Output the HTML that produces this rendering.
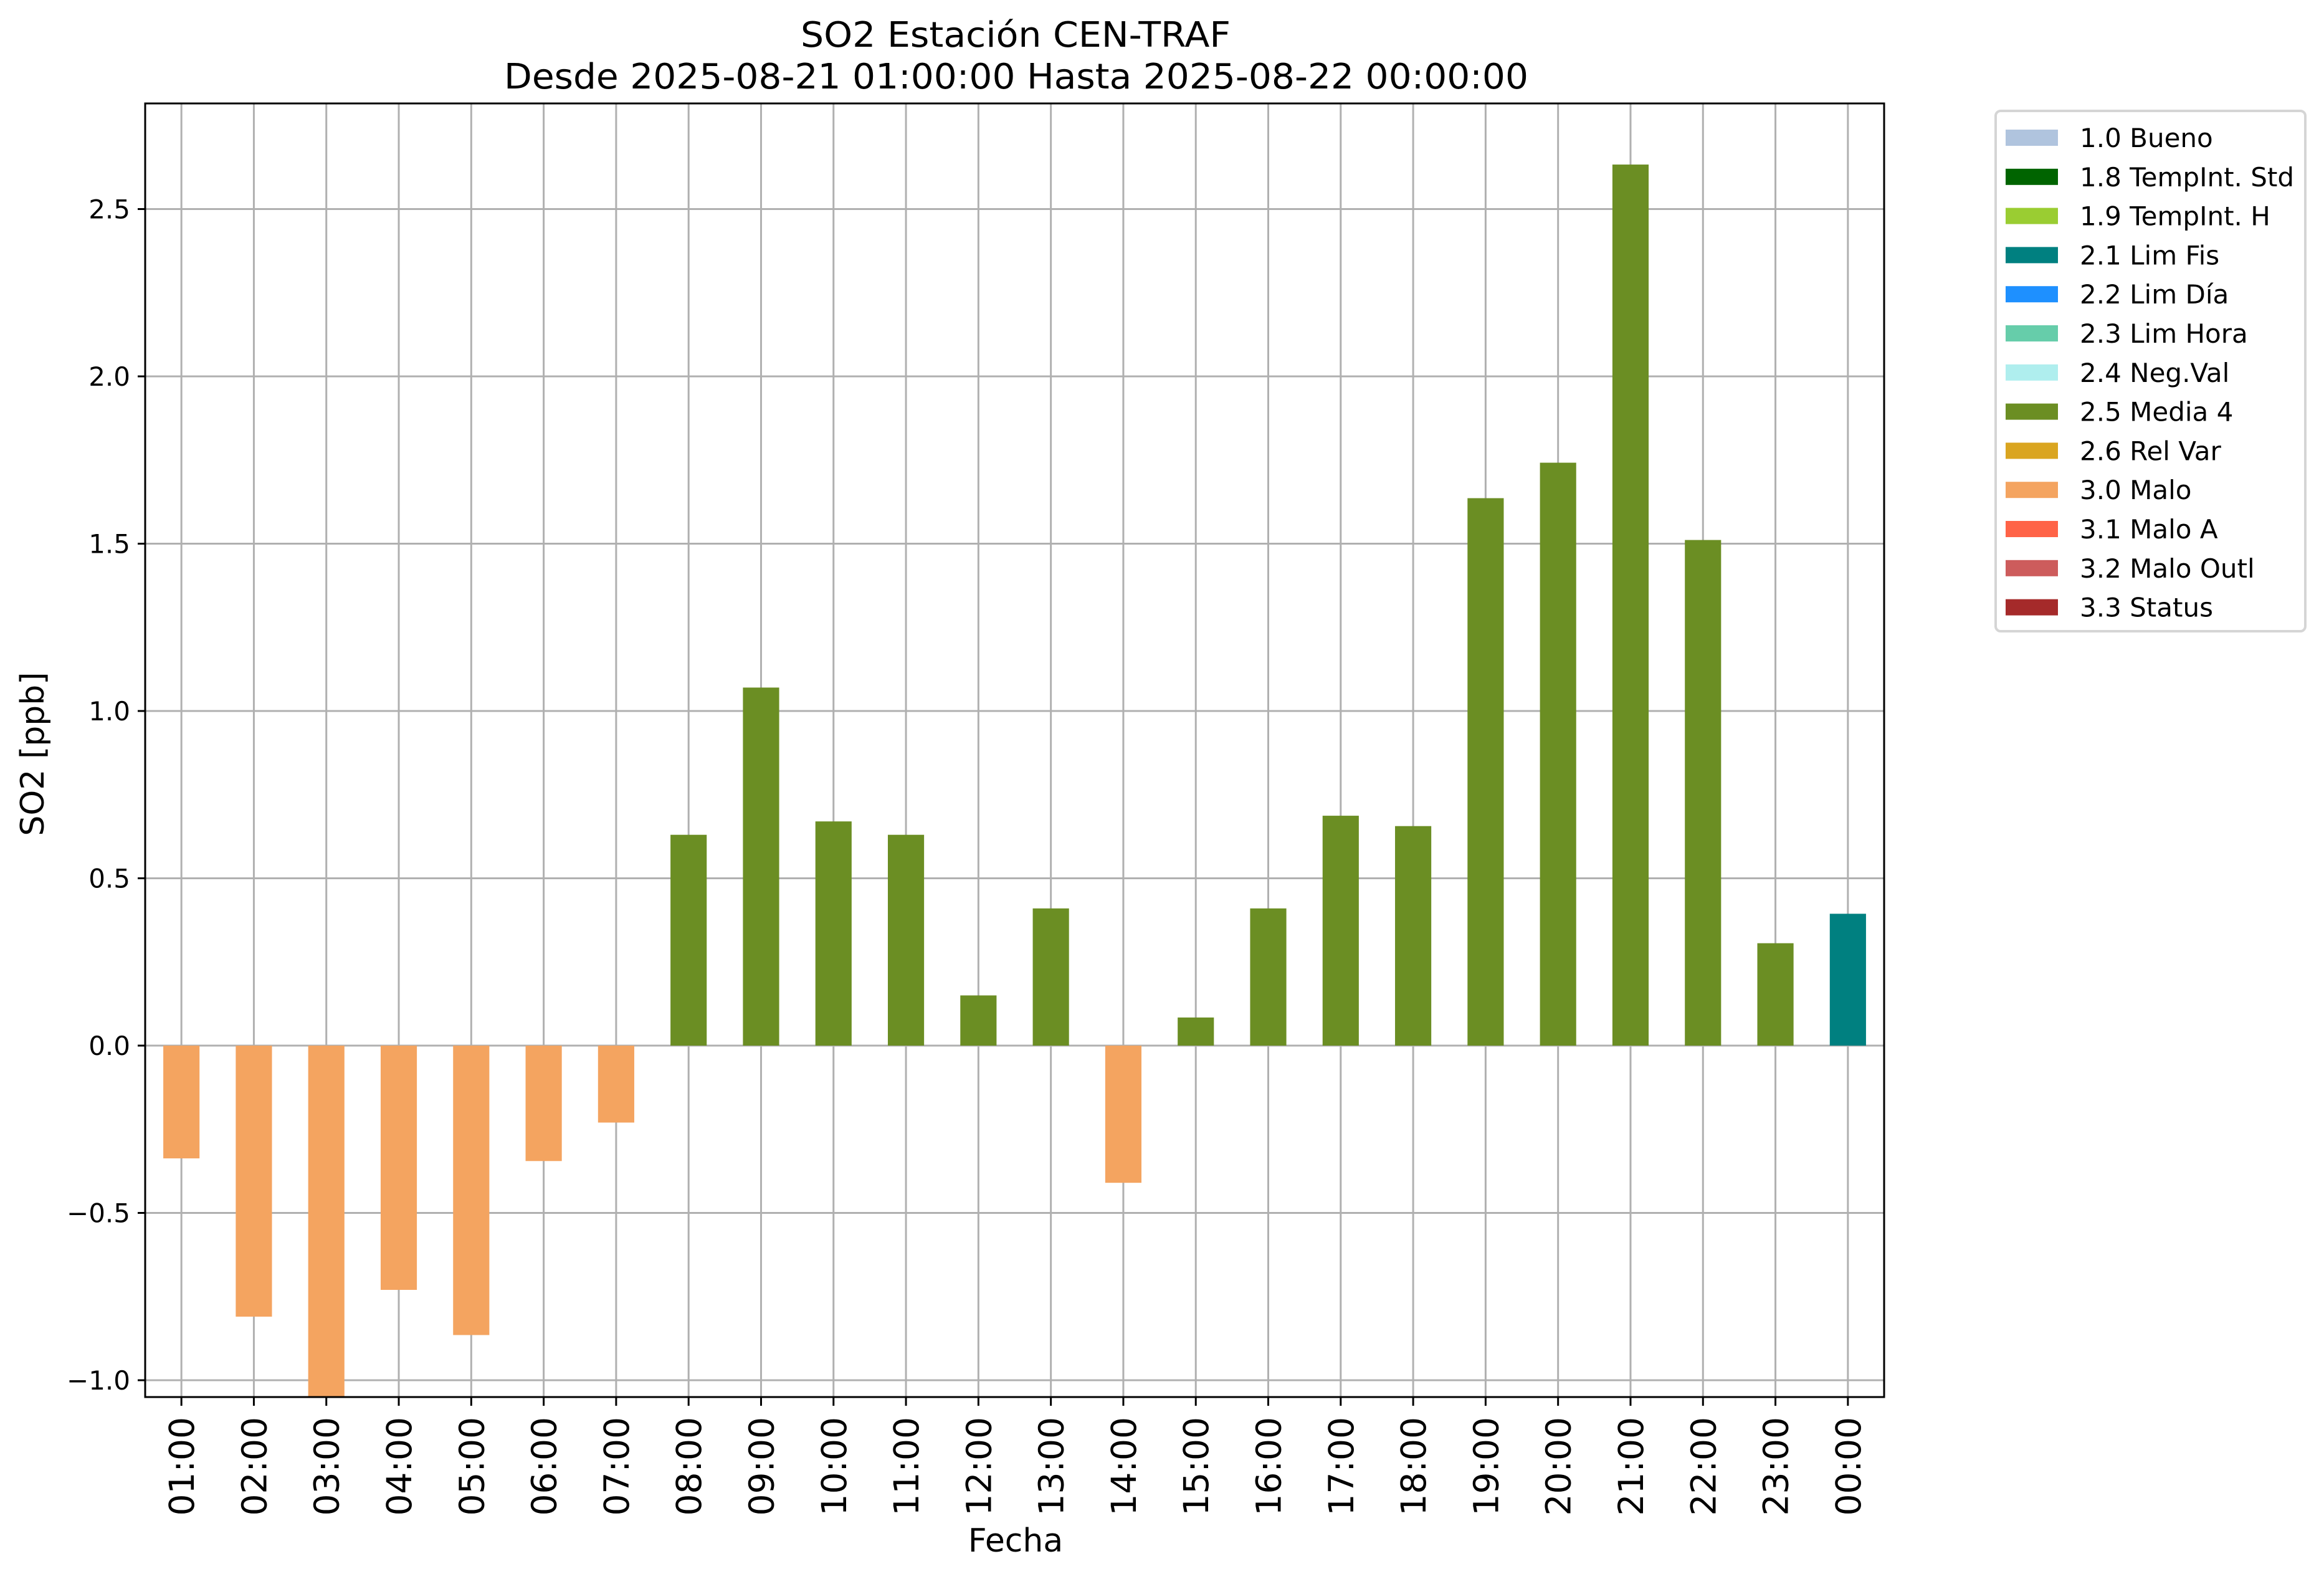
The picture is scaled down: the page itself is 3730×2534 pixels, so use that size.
<!DOCTYPE html>
<html><head><meta charset="utf-8"><style>
html,body{margin:0;padding:0;background:#fff;}
svg{display:block;font-family:"DejaVu Sans","Liberation Sans",sans-serif;}
</style></head><body>
<svg id="chart" width="3730" height="2534" viewBox="0 0 3730 2534" xmlns="http://www.w3.org/2000/svg">
<rect x="0" y="0" width="3730" height="2534" fill="#fff"/>
<text x="1630" y="75" font-size="56" text-anchor="middle" textLength="690" lengthAdjust="spacingAndGlyphs">SO2 Estación CEN-TRAF</text>
<text x="1631" y="142" font-size="56" text-anchor="middle" textLength="1644" lengthAdjust="spacingAndGlyphs">Desde 2025-08-21 01:00:00 Hasta 2025-08-22 00:00:00</text>
<g id="grid"></g>
<g id="bars"></g>
<g id="axes"></g>
<text x="1630" y="2490" font-size="52" text-anchor="middle">Fecha</text>
<text x="0" y="0" font-size="52" text-anchor="middle" transform="translate(70,1210) rotate(-90)">SO2 [ppb]</text>
<g id="legend"></g>
</svg>
<script>
const categories = ["01:00","02:00","03:00","04:00","05:00","06:00","07:00","08:00","09:00","10:00","11:00","12:00","13:00","14:00","15:00","16:00","17:00","18:00","19:00","20:00","21:00","22:00","23:00","00:00"];
const values = [-0.337,-0.81,-1.1,-0.73,-0.865,-0.345,-0.23,0.63,1.07,0.67,0.63,0.15,0.41,-0.41,0.084,0.41,0.687,0.656,1.636,1.742,2.633,1.511,0.306,0.394];
const flags = ["3.0","3.0","3.0","3.0","3.0","3.0","3.0","2.5","2.5","2.5","2.5","2.5","2.5","3.0","2.5","2.5","2.5","2.5","2.5","2.5","2.5","2.5","2.5","2.1"];
const yTicks = [-1.0,-0.5,0.0,0.5,1.0,1.5,2.0,2.5];
const legendLabels = ["1.0 Bueno","1.8 TempInt. Std","1.9 TempInt. H","2.1 Lim Fis","2.2 Lim Día","2.3 Lim Hora","2.4 Neg.Val","2.5 Media 4","2.6 Rel Var","3.0 Malo","3.1 Malo A","3.2 Malo Outl","3.3 Status"];
const legendColors = ["#b0c4de","#006400","#9acd32","#008080","#1e90ff","#66cdaa","#afeeee","#6b8e23","#daa520","#f4a460","#ff6347","#cd5c5c","#a52a2a"];
const flagColor = {"1.0":"#b0c4de","1.8":"#006400","1.9":"#9acd32","2.1":"#008080","2.2":"#1e90ff","2.3":"#66cdaa","2.4":"#afeeee","2.5":"#6b8e23","2.6":"#daa520","3.0":"#f4a460","3.1":"#ff6347","3.2":"#cd5c5c","3.3":"#a52a2a"};

const NS="http://www.w3.org/2000/svg";
const L=233,R=3024,T=166,B=2242;
const y0=1678, unit=537;
const yS=v=>y0-v*unit;
const step=(R-L)/categories.length;
const xS=i=>L+step*(i+0.5);
function mk(tag,attrs,parent){const e=document.createElementNS(NS,tag);for(const k in attrs)e.setAttribute(k,attrs[k]);parent.appendChild(e);return e;}
const grid=document.getElementById('grid'),bars=document.getElementById('bars'),axes=document.getElementById('axes'),leg=document.getElementById('legend');

yTicks.forEach(v=>{
  const gl=mk('line',{x1:L,x2:R,y1:yS(v),y2:yS(v),stroke:'#b0b0b0','stroke-width':3},grid);
  
  
  const tk=mk('line',{x1:L-12,x2:L,y1:yS(v),y2:yS(v),stroke:'#000','stroke-width':3},axes);
  
  
  const t=mk('text',{x:L-24,y:yS(v)+15,'font-size':42,'text-anchor':'end'},axes);
  t.textContent=(v<0?'\u2212':'')+Math.abs(v).toFixed(1);
  
  
});
categories.forEach((c,i)=>{
  const x=xS(i);
  const gl=mk('line',{x1:x,x2:x,y1:T,y2:B,stroke:'#b0b0b0','stroke-width':3},grid);
  
  
  const tk=mk('line',{x1:x,x2:x,y1:B,y2:B+14,stroke:'#000','stroke-width':3},axes);
  
  
  const t=mk('text',{x:0,y:0,'font-size':55,'text-anchor':'end',transform:`translate(${x+20},${B+32}) rotate(-90)`},axes);
  t.textContent=c;
  
  
  const v=values[i];
  const top=Math.max(T,Math.min(yS(v),y0)), bot=Math.min(B,Math.max(yS(v),y0));
  const bw=step*0.5;
  const r=mk('rect',{x:x-bw/2,y:top,width:bw,height:bot-top,fill:flagColor[flags[i]]},bars);
  
  
});
const frame=mk('rect',{x:L,y:T,width:R-L,height:B-T,fill:'none',stroke:'#000','stroke-width':3},axes);



const box=mk('rect',{x:3203,y:178,width:497,height:835,rx:8,fill:'#fff',stroke:'#d5d5d5','stroke-width':4},leg);


legendLabels.forEach((lab,i)=>{
  const cy=221+i*62.8;
  const sw=mk('rect',{x:3219,y:cy-13,width:84,height:26,fill:legendColors[i]},leg);
  
  
  const t=mk('text',{x:3338,y:cy+15,'font-size':42},leg);
  t.textContent=lab;
  
  
});
</script>
</body></html>
